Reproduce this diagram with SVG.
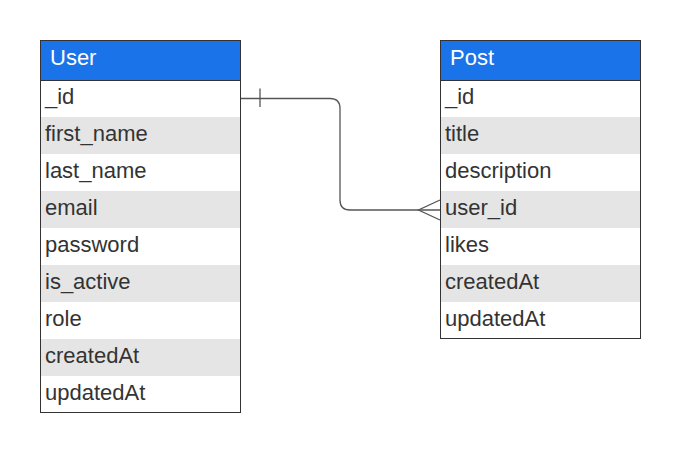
<svg xmlns="http://www.w3.org/2000/svg" width="680" height="453" viewBox="0 0 680 453">
<style>
.hdr{fill:#1a73e8}
.alt{fill:#e5e5e5}
.box{fill:none;stroke:#333;stroke-width:1}
.ht{font-family:"Liberation Sans",Arial,sans-serif;font-size:22px;fill:#fff}
.rt{font-family:"Liberation Sans",Arial,sans-serif;font-size:22px;fill:#333}
.conn{fill:none;stroke:#555;stroke-width:1.3}
</style>
<rect width="680" height="453" fill="#fff"/>
<g id="user">
<rect class="hdr" x="40.5" y="40.5" width="200" height="40"/>
<rect class="alt" x="40.5" y="117" width="200" height="37"/>
<rect class="alt" x="40.5" y="191" width="200" height="37"/>
<rect class="alt" x="40.5" y="265" width="200" height="37"/>
<rect class="alt" x="40.5" y="339" width="200" height="37"/>
<rect class="box" x="40.5" y="40.5" width="200" height="372"/>
<line class="box" x1="40.5" y1="80.5" x2="240.5" y2="80.5"/>
<text class="ht" x="50" y="65">User</text>
<text class="rt" x="45" y="104">_id</text>
<text class="rt" x="45" y="141">first_name</text>
<text class="rt" x="45" y="178">last_name</text>
<text class="rt" x="45" y="215">email</text>
<text class="rt" x="45" y="252">password</text>
<text class="rt" x="45" y="289">is_active</text>
<text class="rt" x="45" y="326">role</text>
<text class="rt" x="45" y="363">createdAt</text>
<text class="rt" x="45" y="400">updatedAt</text>
</g>
<g id="post">
<rect class="hdr" x="440.5" y="40.5" width="200" height="40"/>
<rect class="alt" x="440.5" y="117" width="200" height="37"/>
<rect class="alt" x="440.5" y="191" width="200" height="37"/>
<rect class="alt" x="440.5" y="265" width="200" height="37"/>
<rect class="box" x="440.5" y="40.5" width="200" height="298"/>
<line class="box" x1="440.5" y1="80.5" x2="640.5" y2="80.5"/>
<text class="ht" x="450" y="65">Post</text>
<text class="rt" x="445" y="104">_id</text>
<text class="rt" x="445" y="141">title</text>
<text class="rt" x="445" y="178">description</text>
<text class="rt" x="445" y="215">user_id</text>
<text class="rt" x="445" y="252">likes</text>
<text class="rt" x="445" y="289">createdAt</text>
<text class="rt" x="445" y="326">updatedAt</text>
</g>
<g id="connectors">
<path class="conn" d="M241,98.5 H330 Q340,98.5 340,108.5 V200 Q340,210 350,210 H440"/>
<line class="conn" x1="260" y1="88.5" x2="260" y2="107"/>
<path class="conn" d="M440,200 L418.5,210 L440,220"/>
</g>
</svg>
